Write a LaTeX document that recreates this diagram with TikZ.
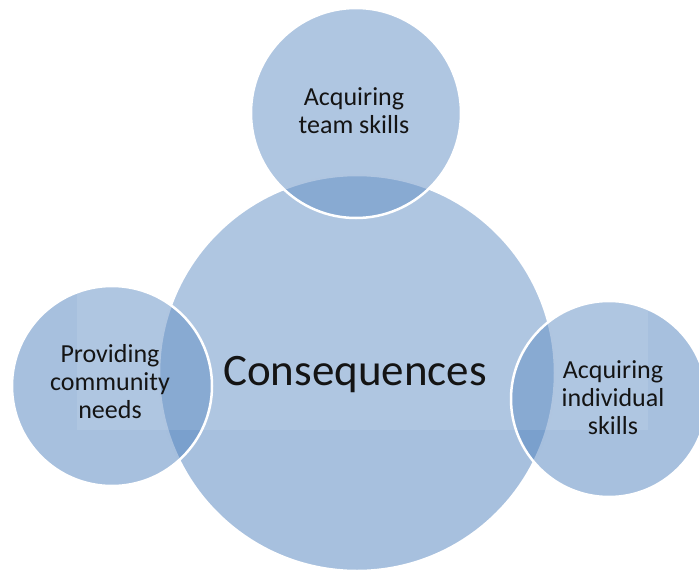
\documentclass[tikz,border=0pt]{standalone}
\usepackage{fontspec}
\setmainfont{Carlito}
\definecolor{accent}{RGB}{79,129,189}
\definecolor{txt}{RGB}{20,20,20}
\begin{document}
\begin{tikzpicture}[x=1pt,y=-1pt,
  bubble/.style={circle,fill=accent,fill opacity=0.5,draw=white,line width=2.5pt,inner sep=0pt},
  lab/.style={align=center,text=txt,font=\fontsize{26}{28}\selectfont,inner sep=0pt},
  biglab/.style={text=txt,font=\fontsize{45}{50}\selectfont,inner sep=0pt}]
\useasboundingbox (0,0) rectangle (699,573);
\node[bubble,minimum size=396pt] (big) at (357,373) {};
\node[bubble,minimum size=210pt] (top) at (356,113) {};
\node[bubble,minimum size=200pt] (left) at (112,386) {};
\node[bubble,minimum size=196pt] (right) at (609,399) {};
\fill[white,opacity=0.1] (77,0) rectangle (648,430);
\node[biglab,anchor=base] (cons) at (355,385) {Consequences};
\node[lab,anchor=base] (toplab) at (354,133) {Acquiring\\team skills};
\node[lab,anchor=base] (leftlab) at (110,418) {Providing\\community\\needs};
\node[lab,anchor=base] (rightlab) at (613,434) {Acquiring\\individual\\skills};
\end{tikzpicture}
\end{document}
